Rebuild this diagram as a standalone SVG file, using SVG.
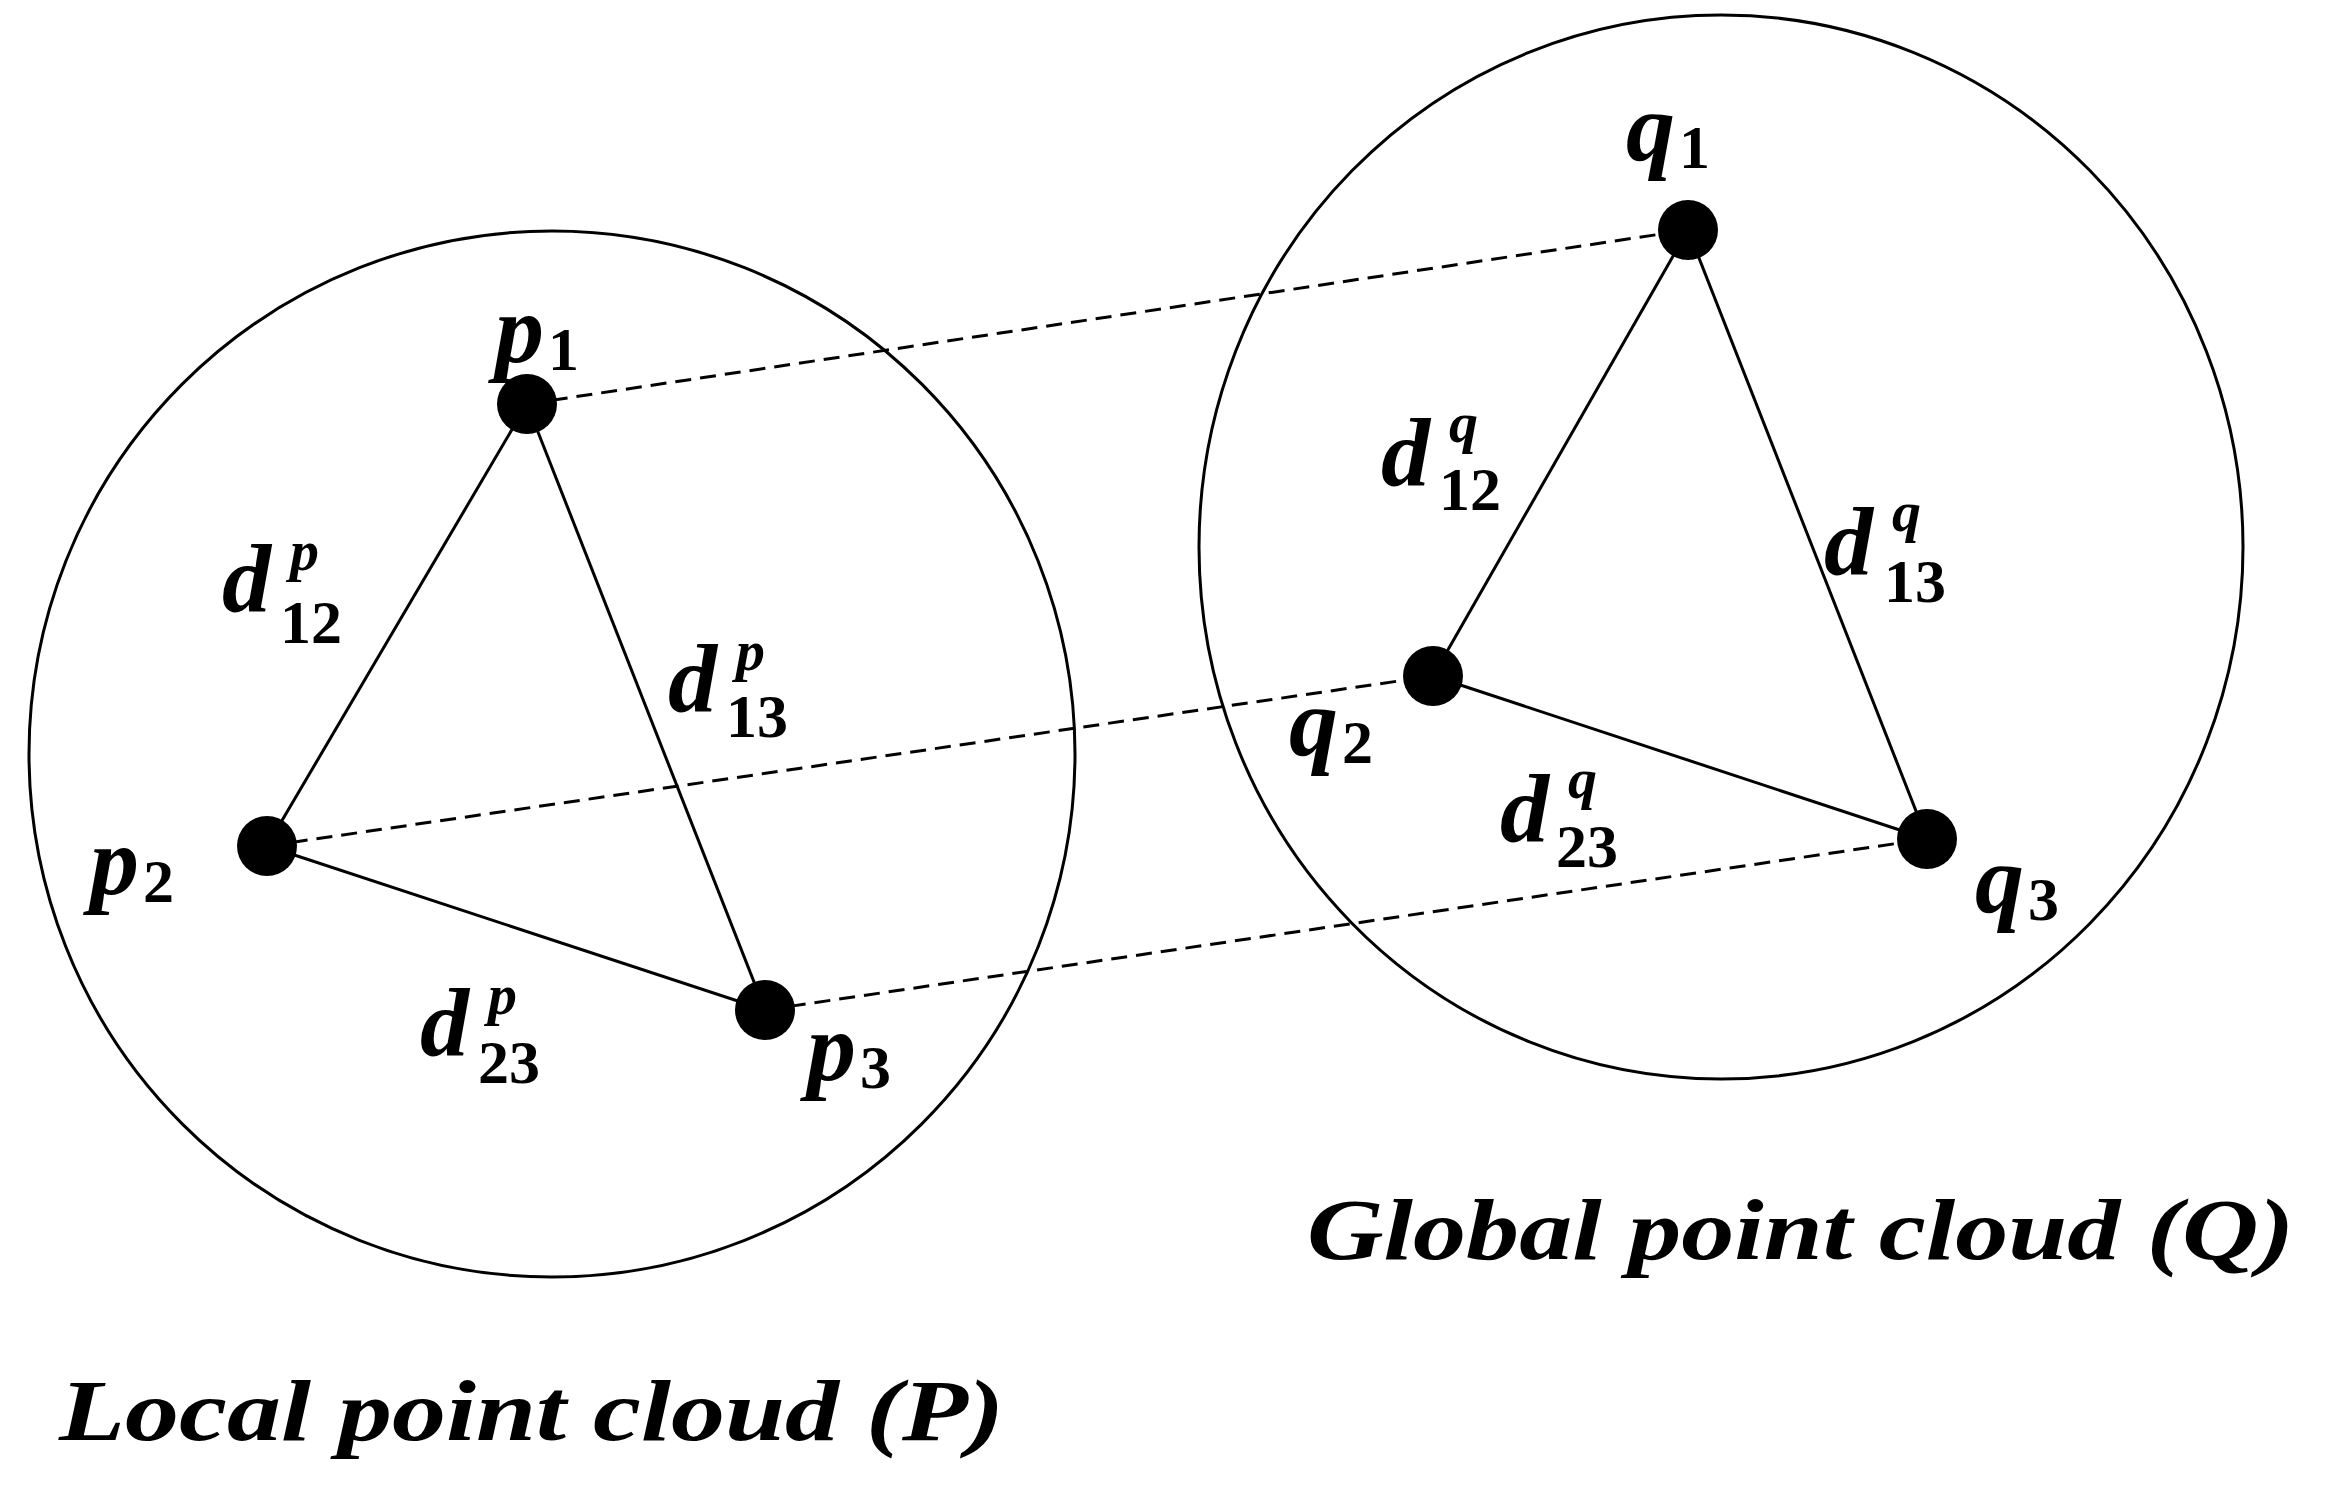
<svg xmlns="http://www.w3.org/2000/svg" width="2328" height="1500" viewBox="0 0 2328 1500">
<style>
.c{fill:none;stroke:#000;stroke-width:3}
.e{stroke:#000;stroke-width:3}
.d{stroke:#000;stroke-width:3;stroke-dasharray:16 9}
.t{font-family:"Liberation Serif",serif;font-weight:bold;font-style:italic;fill:#000}
.m{font-size:98px}
.s{font-size:62px;font-style:normal}
.sp{font-size:58px}
.ti{font-size:86px}
</style>
<rect width="2328" height="1500" fill="#fff"/>
<g id="cloudP"><circle class="c" cx="552" cy="754" r="523"/></g>
<g id="cloudQ"><ellipse class="c" cx="1721" cy="547" rx="522" ry="532"/></g>
<g id="connectors">
<line class="e" x1="527" y1="404" x2="267" y2="846"/>
<line class="e" x1="527" y1="404" x2="765" y2="1010"/>
<line class="e" x1="267" y1="846" x2="765" y2="1010"/>
<line class="e" x1="1688" y1="230" x2="1433" y2="676"/>
<line class="e" x1="1688" y1="230" x2="1927" y2="839"/>
<line class="e" x1="1433" y1="676" x2="1927" y2="839"/>
<line class="d" x1="527" y1="404" x2="1688" y2="230"/>
<line class="d" x1="267" y1="846" x2="1433" y2="676"/>
<line class="d" x1="765" y1="1010" x2="1927" y2="839"/>
</g>
<g id="p1"><circle cx="527" cy="404" r="30"/><text class="t m" x="495" y="362">p<tspan class="s" dx="4" dy="8">1</tspan></text></g>
<g id="p2"><circle cx="267" cy="846" r="30"/><text class="t m" x="90" y="894">p<tspan class="s" dx="4" dy="8">2</tspan></text></g>
<g id="p3"><circle cx="765" cy="1010" r="30"/><text class="t m" x="807" y="1080">p<tspan class="s" dx="4" dy="8">3</tspan></text></g>
<g id="q1"><circle cx="1688" cy="230" r="30"/><text class="t m" x="1626" y="160">q<tspan class="s" dx="4" dy="8">1</tspan></text></g>
<g id="q2"><circle cx="1433" cy="676" r="30"/><text class="t m" x="1289" y="755">q<tspan class="s" dx="4" dy="8">2</tspan></text></g>
<g id="q3"><circle cx="1927" cy="839" r="30"/><text class="t m" x="1975" y="912">q<tspan class="s" dx="4" dy="8">3</tspan></text></g>
<g id="labels">
<text class="t m" x="222" y="612">d</text><text class="t sp" x="290" y="570">p</text><text class="t s" x="280" y="643">12</text>
<text class="t m" x="668" y="712">d</text><text class="t sp" x="736" y="670">p</text><text class="t s" x="726" y="737">13</text>
<text class="t m" x="420" y="1056">d</text><text class="t sp" x="488" y="1014">p</text><text class="t s" x="478" y="1083">23</text>
<text class="t m" x="1381" y="486">d</text><text class="t sp" x="1449" y="442">q</text><text class="t s" x="1439" y="510">12</text>
<text class="t m" x="1824" y="575">d</text><text class="t sp" x="1892" y="531">q</text><text class="t s" x="1884" y="602">13</text>
<text class="t m" x="1500" y="842">d</text><text class="t sp" x="1568" y="798">q</text><text class="t s" x="1556" y="867">23</text>
</g>
<g id="titles">
<text class="t ti" x="1307" y="1259" textLength="987" lengthAdjust="spacingAndGlyphs">Global point cloud (Q)</text>
<text class="t ti" x="59" y="1440" textLength="945" lengthAdjust="spacingAndGlyphs">Local point cloud (P)</text>
</g>
</svg>
